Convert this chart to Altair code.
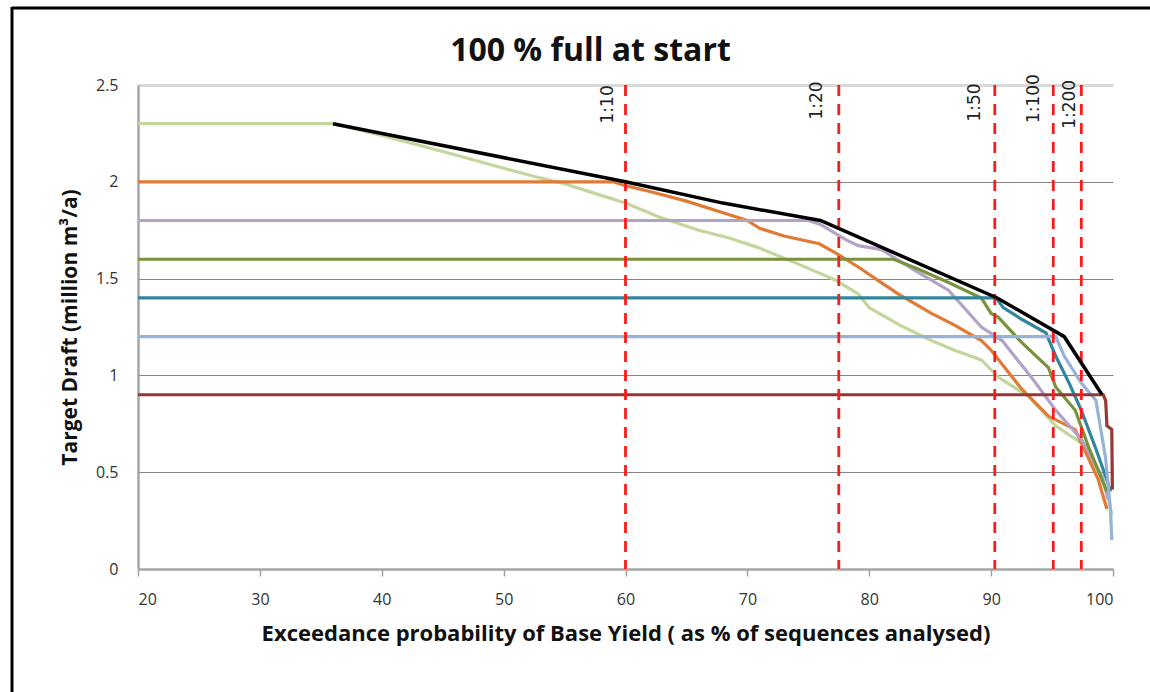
import altair as alt
import pandas as pd

# ---------------- data ----------------
LG_X = [20, 36, 38, 40, 43, 46, 50, 53, 55, 58, 60, 62.7, 66, 68.5, 70.9, 74, 77.3, 79.1, 80, 82.5, 85.1, 87, 89.2, 90.6, 93.1, 95.3, 97.4, 98.8, 99.5, 99.9]
LG_Y = [2.3, 2.3, 2.27, 2.24, 2.19, 2.14, 2.07, 2.02, 1.99, 1.93, 1.89, 1.82, 1.75, 1.71, 1.66, 1.58, 1.49, 1.42, 1.35, 1.26, 1.18, 1.13, 1.08, 0.99, 0.89, 0.74, 0.65, 0.50, 0.40, 0.28]

OR_X = [20, 59, 60, 62, 65, 68, 70, 71, 73, 75.9, 77.3, 79.1, 80.5, 82.4, 85.1, 87, 89.2, 90, 91, 92.5, 94.7, 96.9, 98.8, 99.5]
OR_Y = [2.0, 2.0, 1.98, 1.95, 1.90, 1.84, 1.80, 1.76, 1.72, 1.68, 1.63, 1.56, 1.50, 1.42, 1.32, 1.26, 1.18, 1.13, 1.05, 0.93, 0.79, 0.72, 0.46, 0.31]

PU_X = [20, 75, 76, 78.1, 79.1, 81, 83.8, 86.5, 89.2, 90.9, 93.3, 95.3, 97.4, 99.1, 99.6]
PU_Y = [1.8, 1.8, 1.78, 1.70, 1.67, 1.65, 1.54, 1.44, 1.25, 1.18, 0.99, 0.82, 0.67, 0.48, 0.36]

DG_X = [20, 82, 84, 86.5, 89.2, 90, 90.6, 92.5, 94.7, 95.3, 96.9, 98, 99.5]
DG_Y = [1.6, 1.6, 1.55, 1.48, 1.40, 1.32, 1.30, 1.17, 1.04, 0.94, 0.82, 0.63, 0.40]

TE_X = [20, 90.4, 91, 92.5, 94.5, 95.3, 96.4, 97.4, 98.6, 99.5, 99.8]
TE_Y = [1.4, 1.4, 1.35, 1.29, 1.22, 1.10, 0.96, 0.82, 0.62, 0.46, 0.40]

LB_X = [20, 95.3, 96, 97.4, 98.6, 99.4, 99.8, 99.9]
LB_Y = [1.2, 1.2, 1.1, 0.96, 0.87, 0.57, 0.3, 0.15]

DR_X = [20, 99.2, 99.4, 99.5, 99.9, 99.95]
DR_Y = [0.9, 0.9, 0.87, 0.74, 0.72, 0.41]

ENV_X = [36, 60, 68, 76, 90.5, 96, 99.1]
ENV_Y = [2.3, 2.0, 1.89, 1.8, 1.4, 1.2, 0.9]

RP_X = [60, 77.5, 90.3, 95.1, 97.4]
RP_LABELS = ["1:10", "1:20", "1:50", "1:100", "1:200"]
RP_LABEL_X = [58.6, 75.7, 88.7, 93.5, 96.5]
RP_LABEL_Y = [2.4, 2.42, 2.41, 2.43, 2.4]

X_TICKS = [20, 30, 40, 50, 60, 70, 80, 90, 100]
Y_TICKS = [0, 0.5, 1, 1.5, 2, 2.5]

SERIES = [
    (LG_X, LG_Y, "#c3d69b"),
    (OR_X, OR_Y, "#e07a35"),
    (PU_X, PU_Y, "#b3a2c7"),
    (DG_X, DG_Y, "#77933c"),
    (TE_X, TE_Y, "#31859c"),
    (LB_X, LB_Y, "#95b3d7"),
    (DR_X, DR_Y, "#953735"),
]

FONT = "Open Sans"
W, H = 975, 484

xs = alt.Scale(domain=[20, 100], nice=False, zero=False)
ys = alt.Scale(domain=[0, 2.5], nice=False, zero=True)

X_ENC = alt.X("x:Q", scale=xs, axis=alt.Axis(
    values=X_TICKS, title="Exceedance probability of Base Yield ( as % of sequences analysed)",
    grid=False, tickSize=7, tickColor="#a0a0a0", tickWidth=1.5,
    domainColor="#a6a6a6", domainWidth=2.5,
    labelFont=FONT, labelFontSize=16, labelColor="#333333", labelPadding=15,
    titleFont=FONT, titleFontSize=22, titleFontWeight="bold", titleColor="#111111",
    titlePadding=16))
Y_ENC = alt.Y("y:Q", scale=ys, axis=alt.Axis(
    values=Y_TICKS, format="~g", title="Target Draft (million m³/a)",
    grid=True,
    gridColor={"condition": {"test": "datum.value === 2.5", "value": "#d9d9d9"}, "value": "#858585"},
    gridWidth={"condition": {"test": "datum.value === 2.5", "value": 3}, "value": 1.2},
    tickSize=0, domainColor="#a6a6a6", domainWidth=2.5,
    labelFont=FONT, labelFontSize=16, labelColor="#333333", labelPadding=20,
    titleFont=FONT, titleFontSize=21, titleFontWeight="bold", titleColor="#111111",
    titlePadding=15))

layers = []
for sx, sy, col in SERIES:
    df = pd.DataFrame({"x": sx, "y": sy, "i": list(range(len(sx)))})
    layers.append(
        alt.Chart(df).mark_line(color=col, strokeWidth=3.2).encode(
            x=X_ENC, y=Y_ENC, order="i:Q",
        )
    )

rp_df = pd.DataFrame({"x": RP_X})
rp = alt.Chart(rp_df).mark_rule(color="#ff1a1a", strokeWidth=2.8, strokeDash=[11, 8]).encode(
    x=X_ENC
)
layers.append(rp)

env_df = pd.DataFrame({"x": ENV_X, "y": ENV_Y})
env = alt.Chart(env_df).mark_line(color="#000000", strokeWidth=3.5).encode(
    x=X_ENC, y=Y_ENC,
)
layers.append(env)

lab_df = pd.DataFrame({"x": RP_LABEL_X, "y": RP_LABEL_Y, "t": RP_LABELS})
labels = alt.Chart(lab_df).mark_text(
    angle=270, align="center", baseline="middle", font="DejaVu Sans", fontSize=17, color="#222222"
).encode(
    x=X_ENC, y=Y_ENC,
    text="t:N",
)
layers.append(labels)

frame_df = pd.DataFrame({"a": [0]})
frame_top = alt.Chart(frame_df).mark_rule(color="#000000", strokeWidth=3).encode(
    x=alt.value(-126), x2=alt.value(1030), y=alt.value(-77)
)
frame_left = alt.Chart(frame_df).mark_rule(color="#000000", strokeWidth=3).encode(
    x=alt.value(-126), y=alt.value(-78), y2=alt.value(620)
)
layers += [frame_top, frame_left]

chart = alt.layer(*layers).properties(
    width=W, height=H,
    title=alt.TitleParams("100 % full at start", font=FONT, fontSize=32, fontWeight="bold",
                          color="#111111", anchor="middle", frame="group", dx=-35, dy=82, offset=20),
    autosize=alt.AutoSizeParams(type="none"),
    padding={"left": 138, "top": 85, "right": 37, "bottom": 123},
    background="#ffffff",
).configure_view(strokeWidth=0)

chart.save("out.html", embed_options={"renderer": "svg", "actions": False})
